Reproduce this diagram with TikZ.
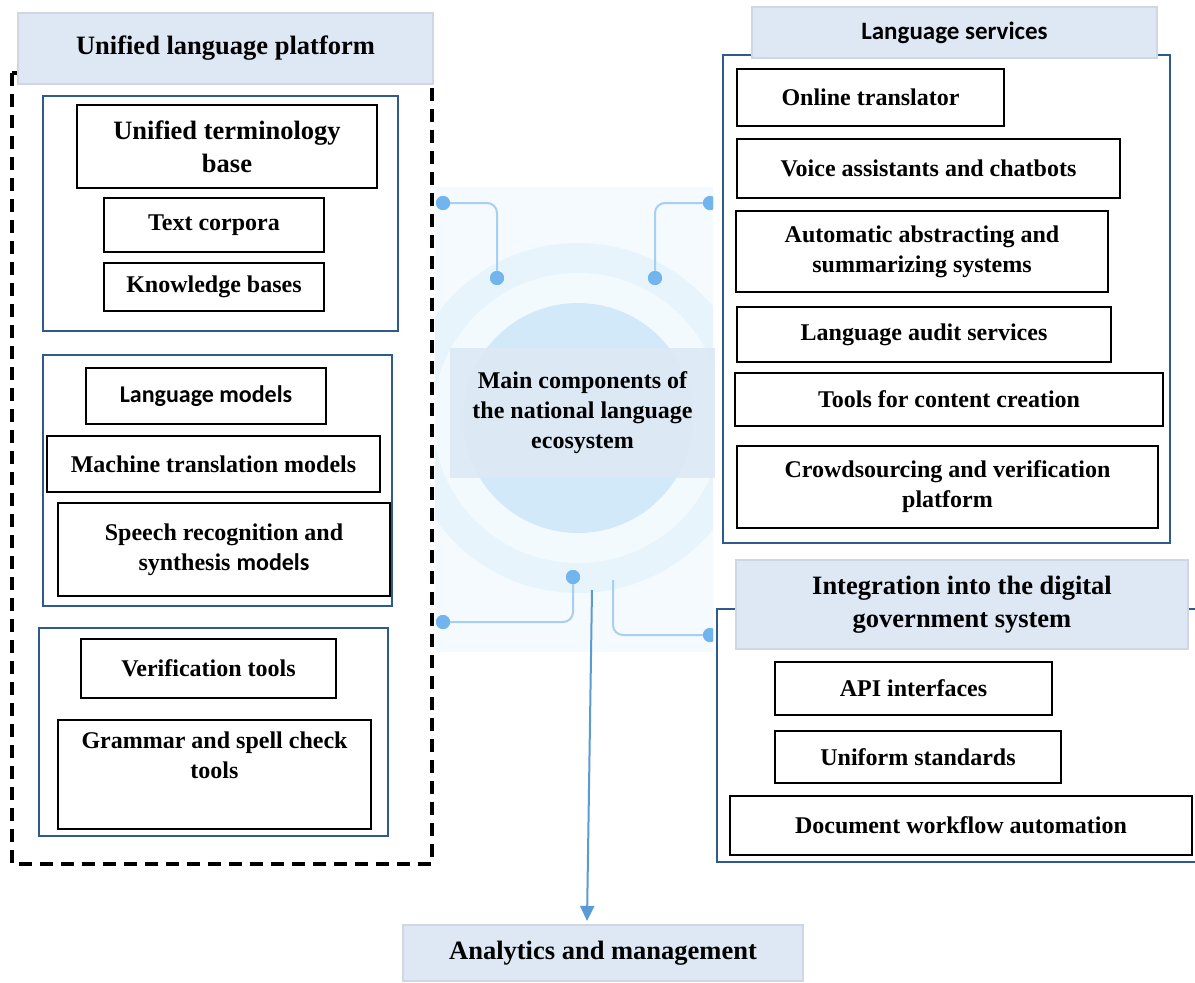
\documentclass[tikz,border=0pt]{standalone}
\usepackage{fontspec}
\setmainfont{Liberation Serif}
\newfontfamily\calib{Carlito}
\usetikzlibrary{arrows.meta,calc}
\definecolor{hdrfill}{HTML}{DDE8F4}
\definecolor{hdrdraw}{HTML}{CFD8E2}
\definecolor{navy}{HTML}{2F5B8C}
\definecolor{connc}{HTML}{A6CFF2}
\definecolor{dotc}{HTML}{72B4EE}
\definecolor{arrc}{HTML}{5B9BD5}
\definecolor{bgc}{HTML}{F5FAFE}
\definecolor{ringa}{HTML}{E8F4FC}
\definecolor{ringb}{HTML}{F3FAFE}
\definecolor{diskc}{HTML}{D1E9F9}
\definecolor{lblfill}{HTML}{DDE9F5}
\newcommand\myitemf{\bfseries\fontsize{24}{30}\selectfont}
\newcommand\myheadf{\bfseries\fontsize{26.5}{33}\selectfont}
\newcommand\pbox[7]{\node[#6, minimum width={(#4-#2)*1pt}, minimum height={(#5-#3)*1pt}] (#1) at ({(#2+#4)/2},{(#3+#5)/2}) {#7};}
\tikzset{
  itembox/.style={draw=black, line width=2.4pt, fill=white, inner sep=0pt, align=center, font=\myitemf},
  groupbox/.style={draw=navy, line width=2pt, inner sep=0pt},
  headbox/.style={draw=hdrdraw, fill=hdrfill, line width=2pt, inner sep=0pt, align=center, font=\myheadf},
  conn/.style={draw=connc, line width=2pt, rounded corners=10pt},
  dotn/.style={circle, fill=dotc, inner sep=0pt, minimum size=14pt},
}
\begin{document}
\begin{tikzpicture}[x=1pt,y=-1pt]
\useasboundingbox (0,0) rectangle (1195,983);
\clip (0,0) rectangle (1195,983);

% ---------- centre graphic ----------
\begin{scope}
\clip (435,187) rectangle (713,652);
\fill[bgc] (435,187) rectangle (713,652);
\fill[ringa] (578,418) circle (175);
\fill[ringb] (578,418) circle (145);
\fill[diskc] (578,418) circle (115);
\node[dotn] (d1) at (443,203) {};
\node[dotn] (d2) at (497,278) {};
\node[dotn] (d3) at (710,203) {};
\node[dotn] (d4) at (655,278) {};
\node[dotn] (d5) at (573,577) {};
\node[dotn] (d6) at (443,622) {};
\coordinate (c7) at (613,580);
\node[dotn] (d8) at (710,635) {};
\draw[conn] (d1.center) -| (d2.center);
\draw[conn] (d3.center) -| (d4.center);
\draw[conn] (d5.center) |- (d6.center);
\draw[conn] (c7) |- (d8.center);
\foreach \d in {d1,d2,d3,d4,d5,d6,d8} \fill[dotc] (\d) circle (7);
\end{scope}
\pbox{main}{450}{348}{715}{478}{fill=lblfill, fill opacity=0.92, text opacity=1, inner sep=0pt, align=center, font=\bfseries\fontsize{24}{30}\selectfont}{Main components of\\the national language\\ecosystem}

% ---------- left: unified language platform ----------
\draw[line width=3.6pt, dash pattern=on 13pt off 8pt] (12,73) rectangle (432,864);
\pbox{ulp}{18}{13}{433}{84}{headbox}{\raisebox{4pt}{Unified language platform}}

\pbox{g1}{43}{96}{398}{331}{groupbox}{}
\pbox{utb}{77}{105}{377}{188}{itembox, font=\myheadf}{Unified terminology\\base}
\pbox{tc}{104}{198}{324}{252}{itembox}{Text corpora}
\pbox{kb}{104}{263}{324}{311}{itembox}{Knowledge bases}

\pbox{g2}{43}{355}{392}{606}{groupbox}{}
\pbox{lm}{86}{368}{326}{424}{itembox, font=\calib\bfseries\fontsize{24}{30}\selectfont}{Language models}
\pbox{mtm}{47}{436}{380}{492}{itembox}{Machine translation models}
\pbox{srs}{58}{503}{390}{596}{itembox}{Speech recognition and\\synthesis {\calib models}}

\pbox{g3}{39}{628}{388}{836}{groupbox}{}
\pbox{vt}{81}{639}{336}{698}{itembox}{Verification tools}
\pbox{gsc}{58}{720}{371}{829}{itembox}{Grammar and spell check\\tools\\\strut}

% ---------- right: language services ----------
\pbox{g4}{723}{55}{1170}{543}{groupbox}{}
\pbox{ls}{752}{7}{1157}{58}{headbox, font=\calib\bfseries\fontsize{25}{30}\selectfont}{\raisebox{-3pt}{Language services}}
\pbox{ot}{737}{69}{1004}{126}{itembox}{Online translator}
\pbox{va}{737}{139}{1120}{198}{itembox}{Voice assistants and chatbots}
\pbox{aas}{736}{211}{1108}{292}{itembox}{Automatic abstracting and\\summarizing systems}
\pbox{las}{737}{307}{1111}{362}{itembox}{Language audit services}
\pbox{tcc}{735}{373}{1163}{426}{itembox}{Tools for content creation}
\pbox{cvp}{737}{446}{1158}{528}{itembox}{Crowdsourcing and verification\\platform}

% ---------- right: integration ----------
\pbox{g5}{717}{609}{1215}{862}{groupbox}{}
\pbox{idg}{736}{560}{1188}{649}{headbox}{Integration into the digital\\government system}
\pbox{api}{775}{662}{1052}{715}{itembox}{API interfaces}
\pbox{us}{775}{731}{1061}{783}{itembox}{Uniform standards}
\pbox{dwa}{730}{796}{1192}{855}{itembox}{Document workflow automation}

% ---------- bottom ----------
\pbox{am}{403}{925}{803}{981}{headbox}{Analytics and management}
\coordinate (astart) at (592,590);
\draw[arrc, line width=2pt, -{Triangle[width=14pt,length=15pt]}] (astart) -- ($(am.north)+(-16,-3)$);
\end{tikzpicture}
\end{document}
